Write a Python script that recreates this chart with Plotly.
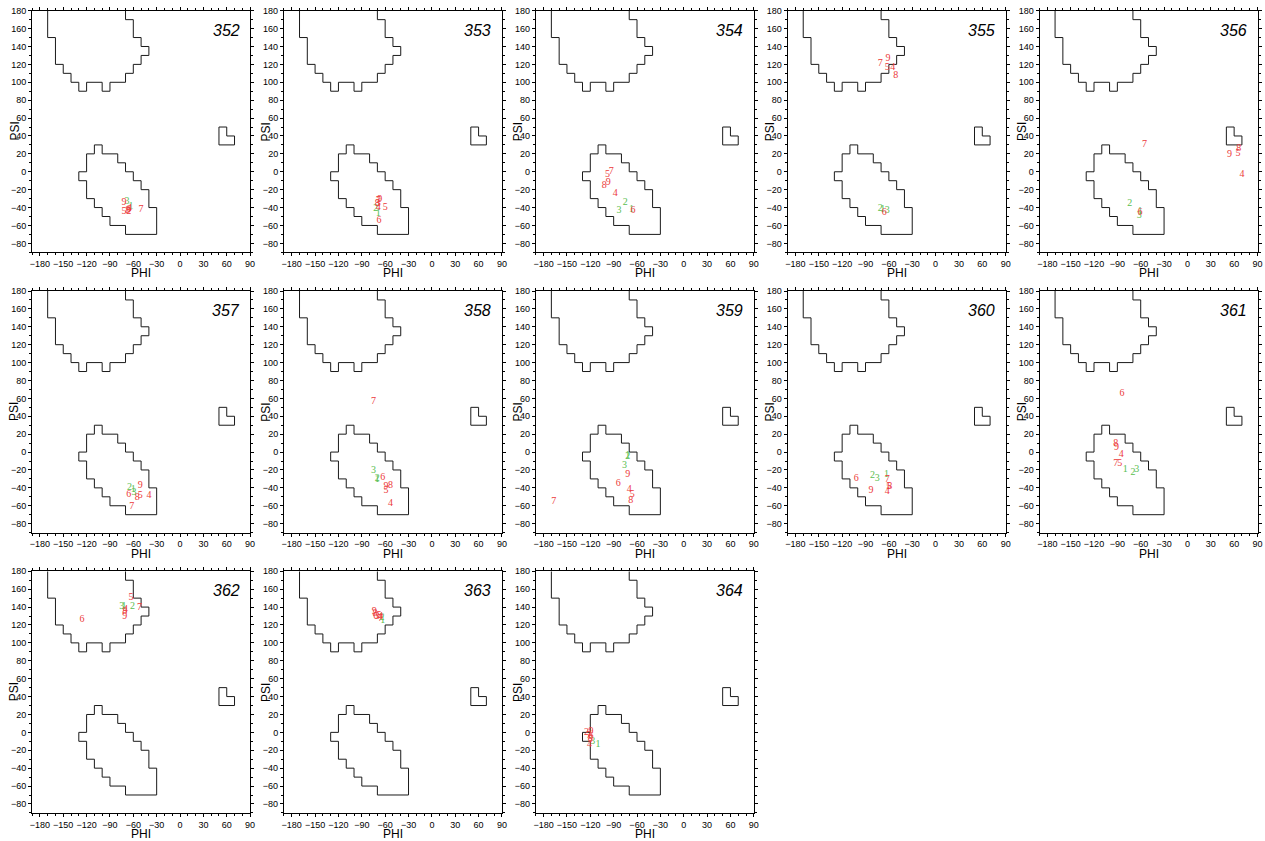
import plotly.graph_objects as go

W, H = 1265, 841

PANELS = ["352", "353", "354", "355", "356", "357", "358", "359", "360",
          "361", "362", "363", "364"]
LABELS = ["1", "2", "3", "4", "5", "6", "7", "8", "9"]

# phi / psi of labels 1..9 in each panel
PHI = {
    "352": [-63, -66, -68, -65, -72, -66, -50, -67, -72],
    "353": [-69, -72, -69, -69, -60, -68, -69, -70, -67],
    "354": [-67, -75, -83, -88, -98, -65, -93, -102, -97],
    "355": [-68, -71, -62, -55, -62, -66, -71, -51, -61],
    "356": [-61, -74, -62, 70, 65, -61, -55, 66, 54],
    "357": [-60, -65, -59, -40, -51, -66, -62, -55, -51],
    "358": [-70, -70, -75, -53, -59, -63, -75, -53, -59],
    "359": [-72, -72, -76, -70, -66, -84, -167, -68, -72],
    "360": [-63, -81, -75, -62, -60, -102, -62, -59, -83],
    "361": [-80, -70, -65, -85, -87, -84, -92, -92, -91],
    "362": [-72, -61, -75, -70, -63, -126, -52, -71, -71],
    "363": [-63, -64, -70, -66, -68, -72, -66, -73, -74],
    "364": [-110, -125, -117, -121, -120, -119, -122, -120, -119],
}
PSI = {
    "352": [-39, -44, -33, -41, -44, -42, -42, -43, -34],
    "353": [-47, -41, -36, -40, -40, -54, -32, -35, -31],
    "354": [-42, -34, -43, -24, -3, -43, 0, -15, -12],
    "355": [-42, -41, -43, 117, 117, -46, 121, 108, 127],
    "356": [-44, -35, -49, -3, 20, -46, 30, 26, 19],
    "357": [-42, -40, -45, -49, -48, -47, -61, -51, -37],
    "358": [-31, -30, -21, -57, -43, -28, 56, -37, -38],
    "359": [-4, -5, -15, -42, -47, -35, -55, -54, -25],
    "360": [-25, -26, -29, -44, -39, -29, -31, -38, -43],
    "361": [-19, -23, -20, -3, -13, 66, -13, 10, 5],
    "362": [141, 141, 141, 137, 151, 126, 139, 135, 129],
    "363": [125, 128, 130, 129, 131, 130, 127, 133, 135],
    "364": [-14, 0, -10, -14, -8, -5, -3, -7, 1],
}
GREEN = {
    "352": ["1", "3"], "353": ["1", "2"], "354": ["1", "2", "3"],
    "355": ["1", "2", "3"], "356": ["1", "2", "3"], "357": ["1", "2", "3"],
    "358": ["1", "2", "3"], "359": ["1", "2", "3"], "360": ["1", "2", "3"],
    "361": ["1", "2", "3"], "362": ["1", "2", "3"], "363": ["1", "2"],
    "364": ["1", "3"],
}

# allowed-region outlines
BETA_PHI = [-170, -170, -160, -160, -150, -150, -140, -140, -130, -130, -120, -120,
            -100, -100, -90, -90, -70, -70, -60, -60, -50, -50, -40, -40, -50, -50,
            -60, -60, -70, -70]
BETA_PSI = [180, 150, 150, 120, 120, 110, 110, 100, 100, 90, 90, 100,
            100, 90, 90, 100, 100, 110, 110, 120, 120, 130, 130, 140, 140, 150,
            150, 170, 170, 180]
ALPHA_PHI = [-110, -100, -100, -80, -80, -70, -70, -60, -60, -50, -50, -40, -40,
             -30, -30, -70, -70, -90, -90, -100, -100, -110, -110, -120, -120,
             -130, -130, -120, -120, -110, -110]
ALPHA_PSI = [30, 30, 20, 20, 10, 10, 0, 0, -10, -10, -20, -20, -40,
             -40, -70, -70, -60, -60, -50, -50, -40, -40, -30, -30, -10,
             -10, 0, 0, 20, 20, 30]
LALPHA_PHI = [50, 50, 60, 60, 70, 70, 50]
LALPHA_PSI = [30, 50, 50, 40, 40, 30, 30]

X_TICKS = list(range(-180, 91, 30))
Y_TICKS = list(range(-80, 181, 20))

RED = "rgb(236,58,58)"
GRN = "rgb(90,190,80)"

COL_LEFT = [32.1 + 251.85 * c for c in range(5)]
ROW_TOP = [10.7 + 280.3 * r for r in range(3)]
PW, PH = 218.0, 241.6

fig = go.Figure()
annotations = []
for i, p in enumerate(PANELS):
    r, c = divmod(i, 5)
    n = "" if i == 0 else str(i + 1)
    xa, ya = "x" + n, "y" + n
    for bx, by in [(BETA_PHI, BETA_PSI), (ALPHA_PHI, ALPHA_PSI), (LALPHA_PHI, LALPHA_PSI)]:
        fig.add_trace(go.Scatter(x=bx, y=by, mode="lines",
                                 line=dict(color="#1a1a1a", width=1),
                                 xaxis=xa, yaxis=ya, showlegend=False, hoverinfo="skip"))
    colors = [GRN if l in GREEN[p] else RED for l in LABELS]
    fig.add_trace(go.Scatter(x=PHI[p], y=PSI[p], mode="text", text=LABELS,
                             textfont=dict(family="Liberation Serif", size=10, color=colors),
                             textposition="middle center", cliponaxis=False,
                             xaxis=xa, yaxis=ya, showlegend=False, hoverinfo="skip"))
    x0 = COL_LEFT[c] / W
    x1 = (COL_LEFT[c] + PW) / W
    y1 = 1 - ROW_TOP[r] / H
    y0 = 1 - (ROW_TOP[r] + PH) / H
    axcommon = dict(showline=True, mirror="ticks", linecolor="black", linewidth=1,
                    ticks="outside", ticklen=3, tickcolor="black", tickwidth=1,
                    showgrid=False, zeroline=False, automargin=False, tickangle=0,
                    tickfont=dict(family="Liberation Sans", size=9, color="black"),
                    minor=dict(ticks="outside", ticklen=2, dtick=10, tickcolor="black", showgrid=False))
    fig.update_layout(**{
        "xaxis" + n: dict(domain=[x0, x1], anchor=ya, range=[-190, 90],
                          tickmode="array", tickvals=X_TICKS, **axcommon),
        "yaxis" + n: dict(domain=[y0, y1], anchor=xa, range=[-90, 180],
                          tickmode="array", tickvals=Y_TICKS, **axcommon),
    })
    annotations.append(dict(xref=xa, yref=ya, x=79, y=158, text="<i>" + p + "</i>",
                            showarrow=False, xanchor="right", yanchor="middle",
                            font=dict(family="Liberation Sans", size=16, color="black")))
    annotations.append(dict(xref="paper", yref="paper",
                            x=(COL_LEFT[c] + PW / 2) / W, y=1 - (ROW_TOP[r] + PH + 21) / H,
                            text="PHI", showarrow=False, xanchor="center", yanchor="middle",
                            font=dict(family="Liberation Sans", size=12, color="black")))
    annotations.append(dict(xref="paper", yref="paper",
                            x=(COL_LEFT[c] - 18) / W, y=1 - (ROW_TOP[r] + PH / 2) / H,
                            text="PSI", showarrow=False, textangle=-90,
                            xanchor="center", yanchor="middle",
                            font=dict(family="Liberation Sans", size=12, color="black")))

fig.update_layout(width=W, height=H, margin=dict(l=0, r=0, t=0, b=0),
                  plot_bgcolor="white", paper_bgcolor="white",
                  annotations=annotations, showlegend=False)
fig.write_html("out.html", config={"displayModeBar": False},
               post_script="document.body.style.margin='0';document.body.style.overflow='hidden';")
